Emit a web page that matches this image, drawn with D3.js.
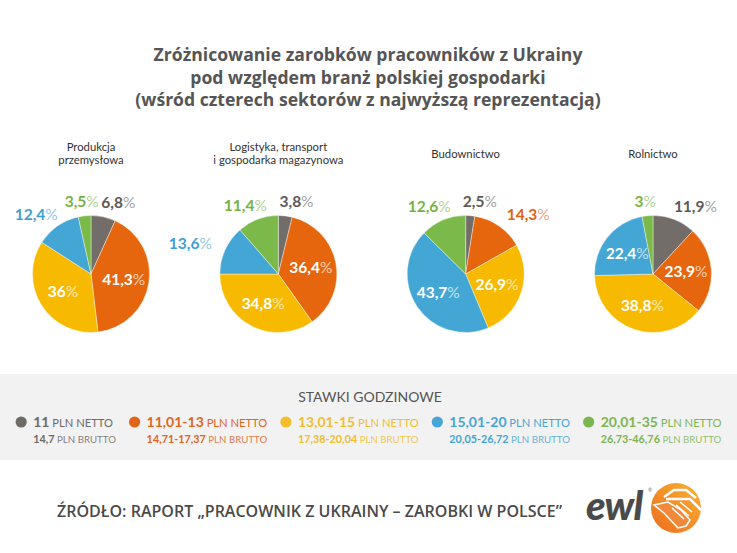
<!DOCTYPE html>
<html><head><meta charset="utf-8">
<script src="https://cdn.jsdelivr.net/npm/d3@7"></script>
<style>body{margin:0;background:#fff}svg{display:block}</style>
</head><body>
<svg id="c" width="737" height="553"></svg>
<script>
// ---------- data ----------
const titleLines = ["Zróżnicowanie zarobków pracowników z Ukrainy","pod względem branż polskiej gospodarki","(wśród czterech sektorów z najwyższą reprezentacją)"];
const sectors = [["Produkcja","przemysłowa"],["Logistyka, transport","i gospodarka magazynowa"],["Budownictwo"],["Rolnictwo"]];
const rateNetto = ["11","11,01-13","13,01-15","15,01-20","20,01-35"];
const rateBrutto = ["14,7","14,71-17,37","17,38-20,04","20,05-26,72","26,73-46,76"];
const valProdukcja = [6.8,41.3,36,12.4,3.5];
const valLogistyka = [3.8,36.4,34.8,13.6,11.4];
const valBudownictwo = [2.5,14.3,26.9,43.7,12.6];
const valRolnictwo = [11.9,23.9,38.8,22.4,3];
const legendTitle = "STAWKI GODZINOWE";
const sourceText = "ŹRÓDŁO: RAPORT „PRACOWNIK Z UKRAINY – ZAROBKI W POLSCE”";

const series = [valProdukcja,valLogistyka,valBudownictwo,valRolnictwo];
const sliceColors = ["#726d69","#e5660c","#f8ba00","#43a6d5","#7bb94b"];
const labelColors = ["#5d5956","#e2620f","#f2b400","#3ea1d2","#74b443"];
const legendColors = ["#6e6a66","#e0651b","#f3bd2c","#46a5d6","#7bb651"];

const svg = d3.select("#c");
const W = 737;

// title
svg.append("g").selectAll("text").data(titleLines).join("text")
  .attr("x", 368).attr("y", (d,i)=>61+i*22.5)
  .attr("text-anchor","middle")
  .style("font-family","'Open Sans'").style("font-weight",700).style("font-size","17.6px")
  .attr("fill","#555")
  .text(d=>d);

// pies
const xScale = d3.scalePoint().domain(d3.range(sectors.length)).range([91,653]);
const cy = 274, R = 58.5;
const pie = d3.pie().sort(null).value(d=>d);
const arc = d3.arc().innerRadius(0).outerRadius(R);
const fmt = v => String(v).replace(".",",");

sectors.forEach((lines,si)=>{
  const cx = xScale(si);
  const g = svg.append("g").attr("transform",`translate(${cx},${cy})`);
  const t0 = lines.length===1 ? -116.5 : -123.5;
  g.selectAll("text.sub").data(lines).join("text").attr("class","sub")
    .attr("x",0).attr("y",(d,i)=>t0+i*13.5)
    .attr("text-anchor","middle")
    .style("font-family","Lato").style("font-size","11.3px").attr("fill","#333")
    .text(d=>d);
  const arcs = pie(series[si]);
  g.selectAll("path").data(arcs).join("path")
    .attr("d",arc).attr("fill",(d,i)=>sliceColors[i])
    .attr("stroke","#fff").attr("stroke-width",0.4);
  const lab = g.selectAll("text.lab").data(arcs).join("text").attr("class","lab")
    .attr("text-anchor","middle").attr("dy","0.36em")
    .style("font-family","Lato").style("font-size","15.5px")
    .attr("transform",d=>{
      const a = (d.startAngle+d.endAngle)/2;
      if (d.data>=15) {
        const rr = R*0.565;
        return `translate(${rr*Math.sin(a)},${-rr*Math.cos(a)})`;
      }
      const s = Math.sin(a);
      return `translate(${R*1.68*s+4+2.5*Math.sign(s)},${-R*1.25*Math.cos(a)})`;
    });
  lab.append("tspan").style("font-weight",700)
    .attr("fill",(d,i)=> d.data>=15 ? "#fff" : labelColors[i])
    .text(d=>fmt(d.data));
  lab.append("tspan").style("font-weight",400)
    .attr("fill",(d,i)=> d.data>=15 ? "#fff" : labelColors[i])
    .attr("fill-opacity",d=> d.data>=15 ? 0.7 : 0.6)
    .text("%");
});

// legend band
svg.append("rect").attr("x",0).attr("y",374).attr("width",W).attr("height",86).attr("fill","#f2f2f2");
svg.append("text").attr("x",370).attr("y",402).attr("text-anchor","middle")
  .style("font-family","Lato").style("font-size","14px").attr("fill","#555").text(legendTitle);

const leg = svg.append("g");
const items = rateNetto.map((n,i)=>{
  const g = leg.append("g");
  g.append("circle").attr("cx",0).attr("cy",-5).attr("r",5.6).attr("fill",legendColors[i]);
  const t1 = g.append("text").attr("x",12).attr("y",0).attr("fill",legendColors[i])
    .style("font-family","Lato");
  t1.append("tspan").style("font-weight",700).style("font-size","14px").text(n);
  t1.append("tspan").style("font-size","11.2px").text(" PLN NETTO");
  const w = t1.node().getComputedTextLength();
  const t2 = g.append("text").attr("x",12).attr("y",15.5)
    .attr("fill",legendColors[i]).style("font-family","Lato");
  t2.append("tspan").style("font-weight",700).style("font-size","10.8px").text(rateBrutto[i]);
  t2.append("tspan").style("font-size","9.7px").attr("fill-opacity",0.85).text(" PLN BRUTTO");
  const w2 = t2.node().getComputedTextLength();
  t2.attr("x",12+Math.max(0,(w-w2)/2));
  return {g, w: 12+Math.max(w,w2)+5.6};
});
const gap = 13;
const total = d3.sum(items,d=>d.w)+gap*(items.length-1);
let xx = 368.5 - total/2 + 5.6;
items.forEach(it=>{ it.g.attr("transform",`translate(${xx},427)`); xx += it.w+gap; });

// footer
svg.append("text").attr("x",57).attr("y",517)
  .attr("textLength",505).attr("lengthAdjust","spacingAndGlyphs")
  .style("font-family","'Open Sans'").style("font-weight",600).style("font-size","15.5px")
  .attr("fill","#4a4a4a").text(sourceText);

// logo
const logo = svg.append("g");
logo.append("text").attr("x",586).attr("y",520)
  .style("font-family","Lato").style("font-weight",900).style("font-style","italic").style("font-size","40px")
  .attr("fill","#4a4a4a").attr("letter-spacing","-1").text("ewl");
logo.append("text").attr("x",648).attr("y",492).style("font-family","Lato").style("font-size","5px").attr("fill","#777").text("®");
const grad = svg.append("defs").append("linearGradient").attr("id","lg").attr("x1","1").attr("y1","0").attr("x2","0").attr("y2","1");
grad.append("stop").attr("offset","0").attr("stop-color","#f9b233");
grad.append("stop").attr("offset","1").attr("stop-color","#ec6d1e");
logo.append("circle").attr("cx",676).attr("cy",508).attr("r",25).attr("fill","url(#lg)");
logo.append("path").attr("d","M664,497 L674,490 L686,490 L696,498 M666,499 L690,499 L701,510")
  .attr("fill","none").attr("stroke","#fff").attr("stroke-width",2.5).attr("stroke-linejoin","round");
logo.append("path").attr("d","M654,505 L664,513 L678,528 L686,526 L690,520 L681,510 L668,502 Z")
  .attr("fill","#f08a3a").attr("stroke","#fff").attr("stroke-width",1.5);
logo.append("path").attr("d","M672,508 L684,519 M676,505 L689,516 M680,502 L692,512")
  .attr("stroke","#fff").attr("stroke-width",1.5);
</script>
</body></html>
